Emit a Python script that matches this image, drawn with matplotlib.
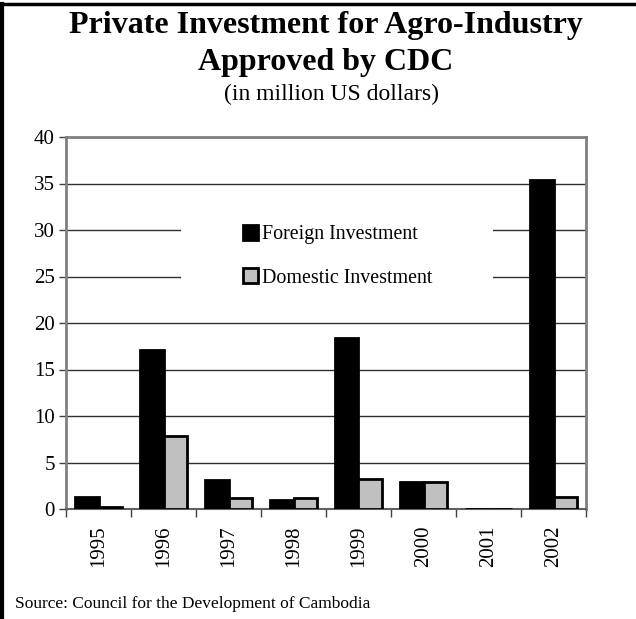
import numpy as np
import matplotlib
matplotlib.use("Agg")
import matplotlib.pyplot as plt
from matplotlib.lines import Line2D
from matplotlib.patches import Rectangle

years = ['1995', '1996', '1997', '1998', '1999', '2000', '2001', '2002']
foreign = [1.3, 17.1, 3.1, 1.0, 18.4, 2.9, 0.0, 35.4]
domestic = [0.2, 7.8, 1.2, 1.2, 3.2, 2.9, 0.0, 1.3]
series_names = ['Foreign Investment', 'Domestic Investment']
yticks = [0, 5, 10, 15, 20, 25, 30, 35, 40]

plt.rcParams['font.family'] = ['Liberation Serif', 'DejaVu Serif']

W, H = 636, 619
fig = plt.figure(figsize=(W / 100, H / 100), dpi=100)
ax = fig.add_axes([66 / W, 1 - 509 / H, 520 / W, 372 / H])

x = np.arange(len(years))
bw = 0.36
ax.bar(x - bw / 2, foreign, bw, color='black', edgecolor='black',
       linewidth=2, label=series_names[0], zorder=3)
ax.bar(x + bw / 2, domestic, bw, color='#c0c0c0', edgecolor='black',
       linewidth=2, label=series_names[1], zorder=3)

ax.set_xlim(-0.5, len(years) - 0.5)
ax.set_ylim(0, 40)
ax.set_yticks(yticks)
ax.yaxis.grid(True, color='#303030', linewidth=1)
ax.set_axisbelow(True)
ax.tick_params(axis='y', labelsize=15, length=5, width=1, color='#404040', pad=3)

ax.set_xticks(np.arange(len(years) + 1) - 0.5)
ax.set_xticklabels([])
ax.set_xticks(x, minor=True)
ax.set_xticklabels(years, minor=True, rotation=90, fontsize=15)
ax.tick_params(axis='x', which='major', length=6, width=1, color='#404040')
ax.tick_params(axis='x', which='minor', length=0, pad=12)

for s in ['left', 'top', 'right']:
    ax.spines[s].set_color('#808080')
    ax.spines[s].set_linewidth(2)
ax.spines['bottom'].set_color('#606060')
ax.spines['bottom'].set_linewidth(1.5)

# white panel behind legend, hides the gridlines there
ax.add_patch(Rectangle((0.221, 0.57), 0.6, 0.215, transform=ax.transAxes,
                       facecolor='white', edgecolor='none', zorder=2))
leg = ax.legend(loc='upper left', bbox_to_anchor=(0.325, 0.785), frameon=False,
                fontsize=14.4, handlelength=0.75, handleheight=0.75,
                handletextpad=0.2, labelspacing=1.2, borderaxespad=0)
leg.set_zorder(4)

cx = (66 + 586) / 2 / W
fig.text(cx, 1 - 33 / H, 'Private Investment for Agro-Industry',
         ha='center', va='baseline', fontsize=23, fontweight='bold')
fig.text(cx, 1 - 70 / H, 'Approved by CDC',
         ha='center', va='baseline', fontsize=23, fontweight='bold')
fig.text(cx + 5 / W, 1 - 100 / H, '(in million US dollars)',
         ha='center', va='baseline', fontsize=17)
fig.text(15 / W, 1 - 608 / H, 'Source: Council for the Development of Cambodia',
         ha='left', va='baseline', fontsize=12.5)

# frame lines at the top and left edges
fig.add_artist(Line2D([0, 1], [1 - 4 / H, 1 - 4 / H], color='black',
                      linewidth=2.5, transform=fig.transFigure))
fig.add_artist(Line2D([2 / W, 2 / W], [0, 1 - 4 / H], color='black',
                      linewidth=3, transform=fig.transFigure))

fig.savefig('out.png', dpi=100)
